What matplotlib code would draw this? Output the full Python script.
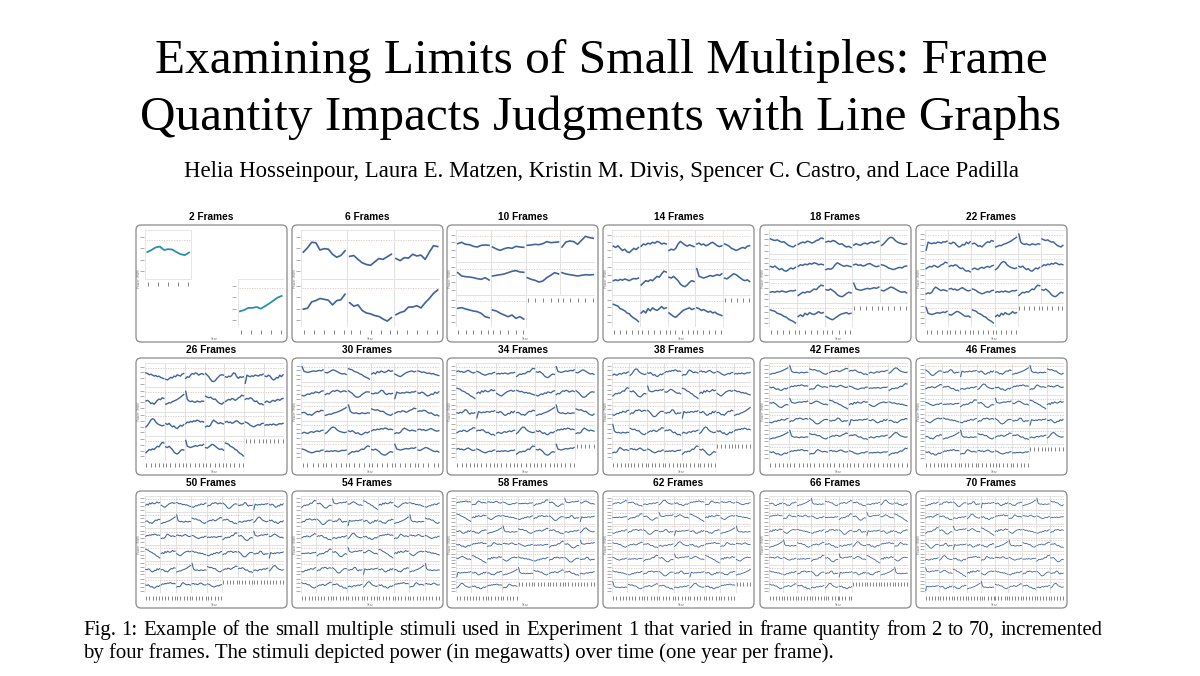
import matplotlib
matplotlib.use("Agg")
import matplotlib.pyplot as plt
from matplotlib.patches import FancyBboxPatch

# ---------------- text content ----------------
TITLE_LINES = ["Examining Limits of Small Multiples: Frame",
               "Quantity Impacts Judgments with Line Graphs"]
AUTHORS = ("Helia Hosseinpour, Laura E. Matzen, Kristin M. Divis, "
           "Spencer C. Castro, and Lace Padilla")
CAPTION_LINES = [
    "Fig. 1: Example of the small multiple stimuli used in Experiment 1 that "
    "varied in frame quantity from 2 to 70, incremented",
    "by four frames. The stimuli depicted power (in megawatts) over time "
    "(one year per frame).",
]

# ---------------- data ----------------
frame_counts = [2, 6, 10, 14, 18, 22, 26, 30, 34, 38, 42, 46, 50, 54, 58, 62, 66, 70]
grid_cols = [3, 3, 4, 5, 5, 6, 7, 6, 7, 8, 7, 8, 9, 9, 9, 9, 10, 10]

# series read from the 2-, 6- and 10-frame panels (relative power, 0..1 per frame)
series_2 = [
    [0.55, 0.60, 0.66, 0.68, 0.60, 0.62, 0.61, 0.55, 0.50, 0.48, 0.54],
    [0.30, 0.33, 0.38, 0.38, 0.40, 0.36, 0.42, 0.48, 0.55, 0.62, 0.66],
]
series_6 = [
    [0.55, 0.65, 0.78, 0.77, 0.60, 0.63, 0.62, 0.50, 0.43, 0.47, 0.58],
    [0.45, 0.47, 0.38, 0.30, 0.26, 0.24, 0.32, 0.40, 0.38, 0.44, 0.50],
    [0.40, 0.35, 0.42, 0.41, 0.50, 0.46, 0.48, 0.38, 0.55, 0.70, 0.68],
    [0.35, 0.37, 0.52, 0.55, 0.60, 0.58, 0.56, 0.45, 0.55, 0.57, 0.70],
    [0.50, 0.42, 0.45, 0.32, 0.26, 0.24, 0.20, 0.18, 0.12, 0.07, 0.15],
    [0.22, 0.27, 0.30, 0.40, 0.40, 0.43, 0.38, 0.50, 0.60, 0.72, 0.80],
]
series_10 = [
    [0.60, 0.64, 0.58, 0.57, 0.52, 0.50, 0.55, 0.56, 0.55],
    [0.50, 0.44, 0.40, 0.45, 0.48, 0.46, 0.52, 0.50, 0.49],
    [0.55, 0.56, 0.58, 0.57, 0.60, 0.66, 0.63, 0.64, 0.65],
    [0.50, 0.65, 0.68, 0.66, 0.58, 0.70, 0.82, 0.78, 0.76],
    [0.70, 0.60, 0.58, 0.57, 0.55, 0.52, 0.50, 0.55, 0.48],
    [0.60, 0.62, 0.64, 0.66, 0.70, 0.74, 0.76, 0.72, 0.71],
    [0.55, 0.50, 0.47, 0.42, 0.45, 0.55, 0.62, 0.70, 0.66],
    [0.70, 0.66, 0.64, 0.62, 0.60, 0.62, 0.64, 0.63, 0.64],
    [0.60, 0.62, 0.58, 0.55, 0.52, 0.50, 0.45, 0.35, 0.32],
    [0.55, 0.52, 0.45, 0.40, 0.35, 0.40, 0.30, 0.35, 0.28],
]
# typical frame shapes seen in the larger panels
shape_pool = [
    [0.45, 0.50, 0.48, 0.55, 0.60, 0.58, 0.62, 0.60, 0.55, 0.58, 0.60, 0.57],
    [0.60, 0.58, 0.55, 0.50, 0.48, 0.45, 0.47, 0.50, 0.52, 0.50, 0.55, 0.56],
    [0.40, 0.42, 0.45, 0.44, 0.48, 0.50, 0.52, 0.55, 0.58, 0.62, 0.66, 0.70],
    [0.70, 0.68, 0.66, 0.60, 0.58, 0.55, 0.50, 0.48, 0.42, 0.38, 0.35, 0.30],
    [0.45, 0.50, 0.58, 0.66, 0.70, 0.68, 0.60, 0.55, 0.52, 0.50, 0.48, 0.50],
    [0.60, 0.55, 0.50, 0.42, 0.36, 0.35, 0.38, 0.45, 0.50, 0.55, 0.56, 0.55],
    [0.50, 0.52, 0.50, 0.53, 0.51, 0.54, 0.52, 0.50, 0.53, 0.55, 0.54, 0.56],
    [0.80, 0.55, 0.50, 0.48, 0.50, 0.47, 0.46, 0.50, 0.48, 0.47, 0.50, 0.49],
    [0.50, 0.55, 0.50, 0.60, 0.55, 0.62, 0.58, 0.56, 0.60, 0.65, 0.60, 0.62],
    [0.55, 0.52, 0.56, 0.50, 0.45, 0.48, 0.42, 0.40, 0.45, 0.50, 0.47, 0.52],
    [0.50, 0.48, 0.52, 0.50, 0.55, 0.62, 0.60, 0.50, 0.45, 0.50, 0.48, 0.50],
    [0.40, 0.45, 0.50, 0.48, 0.52, 0.50, 0.55, 0.60, 0.58, 0.66, 0.72, 0.70],
    [0.65, 0.62, 0.60, 0.62, 0.58, 0.55, 0.56, 0.50, 0.45, 0.42, 0.40, 0.45],
    [0.50, 0.46, 0.42, 0.40, 0.45, 0.50, 0.55, 0.58, 0.60, 0.62, 0.58, 0.60],
    [0.55, 0.60, 0.58, 0.62, 0.60, 0.64, 0.62, 0.66, 0.64, 0.60, 0.62, 0.60],
    [0.30, 0.55, 0.52, 0.50, 0.53, 0.51, 0.55, 0.54, 0.52, 0.56, 0.55, 0.58],
    [0.58, 0.56, 0.60, 0.55, 0.50, 0.42, 0.38, 0.36, 0.40, 0.46, 0.50, 0.48],
    [0.48, 0.52, 0.55, 0.53, 0.58, 0.56, 0.52, 0.55, 0.60, 0.62, 0.68, 0.66],
    [0.62, 0.60, 0.56, 0.58, 0.55, 0.52, 0.54, 0.50, 0.52, 0.48, 0.46, 0.44],
    [0.45, 0.48, 0.46, 0.50, 0.60, 0.66, 0.62, 0.58, 0.55, 0.58, 0.56, 0.54],
    [0.52, 0.50, 0.55, 0.52, 0.45, 0.40, 0.42, 0.48, 0.46, 0.55, 0.50, 0.56],
    [0.78, 0.60, 0.58, 0.56, 0.58, 0.60, 0.62, 0.60, 0.62, 0.64, 0.62, 0.66],
    [0.55, 0.58, 0.56, 0.60, 0.58, 0.52, 0.48, 0.50, 0.44, 0.40, 0.42, 0.38],
    [0.42, 0.40, 0.44, 0.48, 0.46, 0.52, 0.50, 0.56, 0.54, 0.52, 0.58, 0.60],
    [0.60, 0.62, 0.58, 0.60, 0.56, 0.58, 0.62, 0.64, 0.60, 0.56, 0.54, 0.56],
    [0.50, 0.52, 0.48, 0.42, 0.44, 0.40, 0.46, 0.52, 0.56, 0.54, 0.60, 0.58],
    [0.56, 0.54, 0.58, 0.62, 0.66, 0.64, 0.60, 0.56, 0.52, 0.50, 0.52, 0.48],
    [0.46, 0.50, 0.47, 0.45, 0.50, 0.52, 0.49, 0.53, 0.55, 0.52, 0.56, 0.58],
]

# ---------------- style / layout ----------------
W, H = 1200, 676
PANEL_X = [136, 292, 447, 603, 760, 916]
PANEL_Y = [225, 358, 491]
PANEL_W, PANEL_H = 151, 117
LINE_COLOR = "#40659b"
LINE_COLOR_2 = "#2590a8"

fig = plt.figure(figsize=(W / 100, H / 100), dpi=100)
fig.patch.set_facecolor("white")


def fx(px):
    return px / W


def fy(py):
    return 1 - py / H


def series_for(p, n, k):
    """Return (values, value range shown by the cell's y axis)."""
    if n == 2:
        return series_2[k], (0.0, 1.0)
    if n == 6:
        return series_6[k], (0.0, 1.0)
    if n == 10:
        return series_10[k], (0.1, 0.95)
    return shape_pool[(k * 5 + p * 3) % len(shape_pool)], (0.22, 0.88)


for p, (n, ncol) in enumerate(zip(frame_counts, grid_cols)):
    bx = PANEL_X[p % 6]
    by = PANEL_Y[p // 6]
    # rounded frame (drawn beneath the axes)
    box = FancyBboxPatch(((bx) / 100, (H - by - PANEL_H) / 100),
                         PANEL_W / 100, PANEL_H / 100,
                         boxstyle="round,pad=0,rounding_size=0.05",
                         transform=fig.dpi_scale_trans, facecolor="white",
                         edgecolor="#8a8a8a", linewidth=0.9, zorder=-5)
    fig.patches.append(box)
    fig.text(fx(bx + PANEL_W / 2), fy(by - 8), f"{n} Frames",
             family="Liberation Sans", weight="bold", fontsize=7.3,
             ha="center", va="center")

    # cell positions
    if n == 2:
        cells = [(0, 0), (1, 2)]
        nrow = 2
    else:
        cells = [(k // ncol, k % ncol) for k in range(n)]
        nrow = (n + ncol - 1) // ncol

    gl, gr = bx + 9, bx + PANEL_W - 3
    gt, gb = by + 5, by + PANEL_H - 15
    ax = fig.add_axes([fx(gl), fy(gb), fx(gr - gl), (gb - gt) / H])
    ax.set_zorder(2)
    ax.set_xlim(0, ncol)
    ax.set_ylim(nrow, 0)
    ax.axis("off")
    col_px = (gr - gl) / ncol
    row_px = (gb - gt) / nrow

    lw = max(0.6, 1.3 - 0.011 * n)
    color = LINE_COLOR_2 if n == 2 else LINE_COLOR
    lowest = {}
    firstcol = {}
    for k, (r, c) in enumerate(cells):
        vals, (vlo, vhi) = series_for(p, n, k)
        m = len(vals)
        xs = [c + 0.05 + 0.9 * i / (m - 1) for i in range(m)]
        ys = [r + 1 - (0.06 + 0.88 * (v - vlo) / (vhi - vlo)) for v in vals]
        # cell frame & dotted reference line
        ax.plot([c, c + 1, c + 1, c, c], [r, r, r + 1, r + 1, r],
                color="#e2e2e2", lw=0.6, zorder=1)
        ax.plot([c + 0.02, c + 0.98], [r + 0.2, r + 0.2], color="#dcc6c0",
                lw=0.6, ls=(0, (1.5, 1.5)), zorder=1)
        ax.plot(xs, ys, color=color, lw=lw, zorder=3, solid_joinstyle="round")
        lowest[c] = max(lowest.get(c, -1), r)
        firstcol[r] = min(firstcol.get(r, 99), c)

    # x tick labels (tiny rotated year labels) below lowest cell of each column
    tick_frac = [0.07, 0.28, 0.5, 0.72, 0.93]
    for c, r in lowest.items():
        tx = [c + t for t in tick_frac]
        ty = [r + 1 + 5.0 / row_px] * len(tx)
        ax.plot(tx, ty, ls="none", marker="|", markersize=3.4,
                markeredgewidth=0.7, color="#858585", clip_on=False)
    # y ticks at the left of each row's first cell
    for r, c in firstcol.items():
        yv = [r + f for f in (0.15, 0.38, 0.62, 0.85)]
        ax.plot([c - 3.5 / col_px] * len(yv), yv, ls="none", marker="_",
                markersize=2.2, markeredgewidth=0.6, color="#a0a0a0",
                clip_on=False)
    fig.text(fx((gl + gr) / 2), fy(by + PANEL_H - 3), "Year", fontsize=2.3,
             color="#777777", ha="center", va="center")
    fig.text(fx(bx + 3), fy((gt + gb) / 2), "Power (MW)", fontsize=2.3,
             color="#777777", ha="center", va="center", rotation=90)

# ---------------- titles / caption ----------------
SERIF = "Liberation Serif"
fig.canvas.draw()
rend = fig.canvas.get_renderer()


def fit_text(t, target_w):
    bb = t.get_window_extent(renderer=rend)
    t.set_fontsize(t.get_fontsize() * target_w / bb.width)


t1 = fig.text(fx(601), fy(73), TITLE_LINES[0], family=SERIF, fontsize=34,
              ha="center", va="baseline")
t2 = fig.text(fx(601), fy(130), TITLE_LINES[1], family=SERIF, fontsize=34,
              ha="center", va="baseline")
fit_text(t1, 895)
fit_text(t2, 922)
ta = fig.text(fx(601), fy(177), AUTHORS, family=SERIF, fontsize=14,
              ha="center", va="baseline")
fit_text(ta, 838)

# caption line 2 (natural width) defines the font size
c2 = fig.text(fx(83), fy(658), CAPTION_LINES[1], family=SERIF, fontsize=13,
              ha="left", va="baseline")
fit_text(c2, 752)
cfs = c2.get_fontsize()
# caption line 1: justified between x=83 and x=1102
words = CAPTION_LINES[0].split(" ")
wtexts = [fig.text(0, fy(635), w, family=SERIF, fontsize=cfs, ha="left",
                   va="baseline") for w in words]
widths = [t.get_window_extent(renderer=rend).width for t in wtexts]
gap = (1102 - 83 - sum(widths)) / (len(words) - 1)
xcur = 83
for t, w in zip(wtexts, widths):
    t.set_x(fx(xcur))
    xcur += w + gap

fig.savefig("out.png", dpi=100, facecolor="white")
